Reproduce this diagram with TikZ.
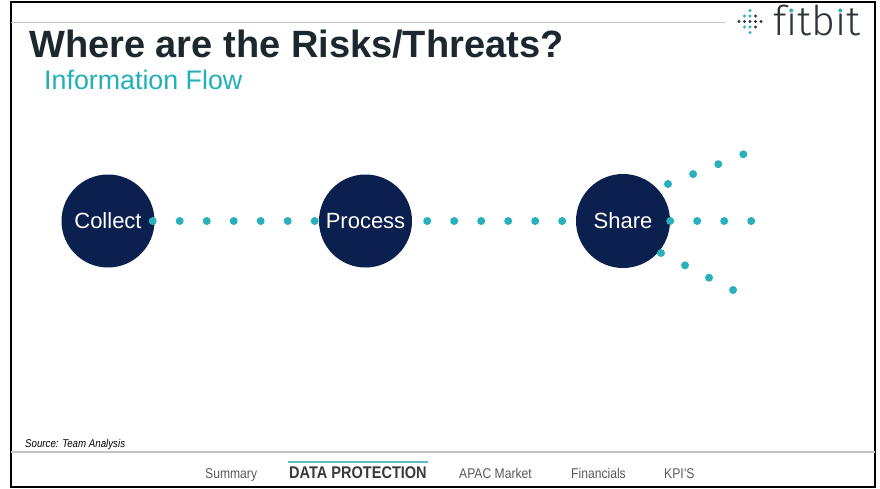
\documentclass[tikz,border=0pt]{standalone}
\usepackage{fontspec}
\setmainfont{Liberation Sans}
\newfontfamily\logofont{Fira Sans}[UprightFont=* Light]
\definecolor{navy}{RGB}{11,32,78}
\definecolor{dotteal}{RGB}{42,176,186}
\definecolor{subteal}{RGB}{32,176,184}
\definecolor{titleink}{RGB}{28,40,45}
\definecolor{logoink}{RGB}{45,52,58}
\definecolor{navgray}{RGB}{88,88,88}
\definecolor{navdark}{RGB}{58,58,58}
\definecolor{rulegray}{RGB}{196,196,196}
\definecolor{underteal}{RGB}{92,190,192}
\newcommand\narrow[1]{\scalebox{0.86}[1]{#1}}
\newcommand\logoi{\rlap{\hbox to \fontcharwd\font"131{\hss\smash{\raisebox{0.55em}{\textcolor{dotteal}{.}}}\hss}}\i}

\begin{document}
\begin{tikzpicture}[
            x=1pt, y=-1pt,
            main node/.style={circle,fill=navy,draw=none,text=white,inner sep=0pt,minimum size=93pt,font=\fontsize{22}{26}\selectfont},
            flow line/.style={draw=dotteal,line width=8pt,line cap=round,dash pattern=on 0pt off 27pt},
            nav/.style={anchor=base west,inner sep=0pt,text=navgray,font=\fontsize{14.1}{16}\selectfont},
            ]
            \useasboundingbox (0,0) rectangle (880,488);
            \draw[line width=2pt] (11,1.5) rectangle (875,486.5);
            \draw[rulegray, line width=1pt] (11,22) -- (725,22);
            \draw[rulegray, line width=1.5pt] (11,452) -- (875,452);

            \node[anchor=base west, inner sep=0pt, text=titleink, font=\bfseries\fontsize{38}{44}\selectfont] (title) at (29,57) {Where are the Risks/Threats?};
            \node[anchor=base west, inner sep=0pt, text=subteal, font=\fontsize{26.8}{30}\selectfont] (subtitle) at (44,89) {Information Flow};

            \foreach \u/\v/\col in {0/-2/dotteal, -1/-1/dotteal, 0/-1/dotteal, 1/-1/logoink,
                -2/0/logoink, -1/0/logoink, 0/0/logoink, 1/0/logoink, 2/0/logoink,
                -1/1/dotteal, 0/1/dotteal, 1/1/logoink, 0/2/dotteal}
                \fill[\col] ({750+5.5*(\u)}, {21.5+5.5*(\v)}) circle (1.7);
            \node[anchor=base west, inner sep=0pt, text=logoink, font=\logofont\fontsize{41}{44}\selectfont] (logo) at (773,35) {f\logoi tb\logoi t};

            \node[main node] (collect) at (108,221) {Collect};
            \node[main node] (process) at (365.5,221) {Process};
            \node[main node, minimum size=94pt] (share) at (623,221) {Share};

            \coordinate (up start) at (668,184);
            \coordinate (up end) at (745,153.6);
            \coordinate (mid end) at (752,221);
            \coordinate (low start) at (661,253);
            \coordinate (low end) at (734,290.5);

            \draw[flow line, shorten <=-2pt] (collect) -- (process);
            \draw[flow line, shorten <=15pt, shorten >=13pt] (process) -- (share);
            \draw[flow line] (up start) -- (up end);
            \draw[flow line] (share.east) -- (mid end);
            \draw[flow line] (low start) -- (low end);

            \node[anchor=base west, inner sep=0pt, font=\itshape\fontsize{11.3}{13}\selectfont] (source) at (25,447) {\narrow{Source: Team Analysis}};

            \node[nav] (summary) at (205,478) {\narrow{Summary}};
            \node[nav, text=navdark, font=\bfseries\fontsize{16.9}{19}\selectfont] (dataprot) at (289,478) {\narrow{DATA PROTECTION}};
            \node[nav] (apac) at (459,478) {\narrow{APAC Market}};
            \node[nav] (financials) at (571,478) {\narrow{Financials}};
            \node[nav] (kpis) at (664,478) {\narrow{KPI'S}};
            \draw[underteal, line width=2.2pt] ([xshift=-1pt, yshift=4pt]dataprot.north west) -- ([xshift=1pt, yshift=4pt]dataprot.north east);
        \end{tikzpicture}
\end{document}
